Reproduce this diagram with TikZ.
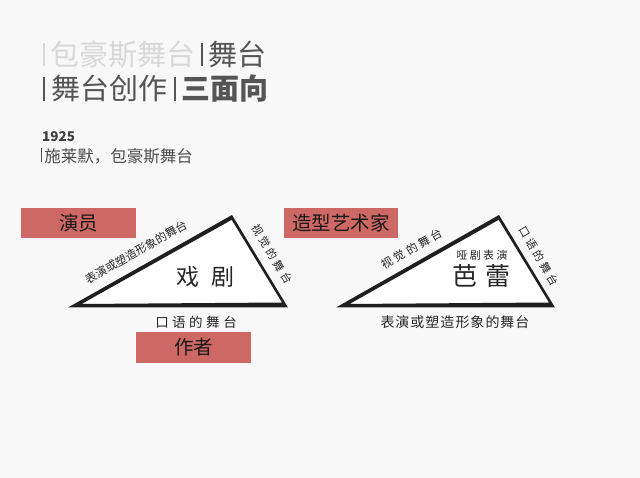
\documentclass[tikz,border=0pt]{standalone}
\usepackage{fontspec}
\setmainfont{Noto Sans CJK SC}
\definecolor{bg}{RGB}{248,248,248}
\definecolor{boxred}{RGB}{205,104,100}
\definecolor{titlelight}{RGB}{216,216,216}
\definecolor{titledark}{RGB}{85,85,85}
\newcommand\gapch[1]{\hspace{#1}}
\newcommand\tbar{\rule[-0.02em]{1.7pt}{0.8em}}
\begin{document}
\begin{tikzpicture}[x=1pt,y=-1pt,
  lbl/.style={inner sep=0pt, text=black!85},
  rolebox/.style={fill=boxred, minimum width=115pt, minimum height=30pt, inner sep=0pt,
    font=\fontsize{19.5}{20}\selectfont, text=black!90},
  ring/.style={fill=black!88, even odd rule},
  titletext/.style={anchor=west, inner sep=0pt, font=\fontsize{29}{30}\selectfont}
]
\path[use as bounding box, fill=bg] (0,0) rectangle (640,478);

% titles
\node[titletext] (t1) at (43,55) {\textcolor{titlelight}{\tbar\hspace{6pt}包豪斯舞台}\hspace{5pt}\textcolor{titledark}{\tbar\hspace{6pt}舞台}};
\node[titletext, text=titledark] (t2) at (43,89) {\tbar\hspace{7pt}舞台创作\hspace{6pt}\tbar\hspace{6pt}\textbf{三面向}};
\node[anchor=west, inner sep=0pt, font=\fontsize{13.5}{14}\selectfont\bfseries, text=black!75] (yr) at (42,137) {1925};
\node[anchor=west, inner sep=0pt, font=\fontsize{16.5}{17}\selectfont, text=black!70] (sub) at (41,156) {\rule[-0.02em]{1.2pt}{0.85em}\hspace{2pt}施莱默，包豪斯舞台};

% left triangle
\coordinate (L1) at (68,307.5);
\coordinate (T1) at (232,215);
\coordinate (R1) at (288,307.5);
\coordinate (l1) at (81.5,304);
\coordinate (t1i) at (231.7,219.8);
\coordinate (r1) at (282,302.5);
\fill[white] (L1) -- (T1) -- (R1) -- cycle;
\fill[ring] (L1) -- (T1) -- (R1) -- cycle (l1) -- (t1i) -- (r1) -- cycle;

% right triangle
\coordinate (L2) at (336,307.5);
\coordinate (T2) at (499,215);
\coordinate (R2) at (555,307.5);
\coordinate (l2) at (349.5,304);
\coordinate (t2i) at (498.7,219.8);
\coordinate (r2) at (549,302.5);
\fill[white] (L2) -- (T2) -- (R2) -- cycle;
\fill[ring] (L2) -- (T2) -- (R2) -- cycle (l2) -- (t2i) -- (r2) -- cycle;

% role boxes
\node[rolebox] (actor) at (78.5,223) {演员};
\node[rolebox] (author) at (193.5,347.5) {作者};
\node[rolebox, minimum width=114pt] (artist) at (341,223) {造型艺术家};

% left triangle labels
\node[lbl, rotate=29.5, font=\fontsize{11.5}{12}\selectfont] (lhyp) at (136,252) {表演或塑造形象的舞台};
\node[lbl, rotate=-59, font=\fontsize{11}{12}\selectfont] (lside) at (272,254)
  {视\gapch{3pt}觉\gapch{3pt}的\gapch{3pt}舞\gapch{3pt}台};
\node[lbl, font=\fontsize{23}{24}\selectfont] (drama) at (205.5,277) {戏\gapch{12pt}剧};
\node[lbl, font=\fontsize{13.5}{14}\selectfont] (lbot) at (196,322)
  {口\gapch{3.5pt}语\gapch{3.5pt}的\gapch{3.5pt}舞\gapch{3.5pt}台};

% right triangle labels
\node[lbl, rotate=29.5, font=\fontsize{11.5}{12}\selectfont] (rhyp) at (412,249)
  {视\gapch{2.5pt}觉\gapch{2.5pt}的\gapch{2.5pt}舞\gapch{2.5pt}台};
\node[lbl, rotate=-59, font=\fontsize{11}{12}\selectfont] (rside) at (539,256)
  {口\gapch{3pt}语\gapch{3pt}的\gapch{3pt}舞\gapch{3pt}台};
\node[lbl, font=\fontsize{11}{12}\selectfont] (mime) at (482,255)
  {哑\gapch{2.5pt}剧\gapch{2.5pt}表\gapch{2.5pt}演};
\node[lbl, font=\fontsize{25}{26}\selectfont] (ballet) at (481,276) {芭\gapch{8pt}蕾};
\node[lbl, font=\fontsize{14}{15}\selectfont] (rbot) at (455,322)
  {表\gapch{1pt}演\gapch{1pt}或\gapch{1pt}塑\gapch{1pt}造\gapch{1pt}形\gapch{1pt}象\gapch{1pt}的\gapch{1pt}舞\gapch{1pt}台};
\end{tikzpicture}
\end{document}
